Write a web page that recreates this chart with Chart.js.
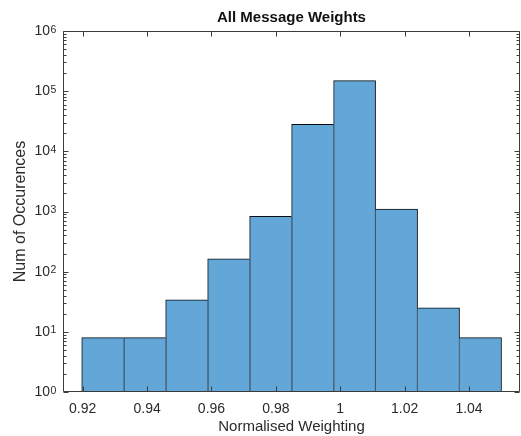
<!DOCTYPE html>
<html>
<head>
<meta charset="utf-8">
<script src="https://cdn.jsdelivr.net/npm/chart.js@4/dist/chart.umd.min.js"></script>
<style>
  html, body { margin: 0; padding: 0; background: #fff; }
  #c { display: block; }
</style>
</head>
<body>
<canvas id="c" width="521" height="436"></canvas>
<script>
// ---- data ----
const binCenters = [0.92622, 0.93926, 0.95230, 0.96534, 0.97838, 0.99142, 1.00446, 1.01750, 1.03054, 1.04358];
const counts     = [8, 8, 34, 164, 830, 28000, 150000, 1100, 25, 8];
const xTickValues = [0.92, 0.94, 0.96, 0.98, 1.00, 1.02, 1.04];
const yTickValues = [1, 10, 100, 1000, 10000, 100000, 1000000];
const yTickBase = '10';
const yTickExponents = ['0', '1', '2', '3', '4', '5', '6'];
const titleText = 'All Message Weights';
const xTitle = 'Normalised Weighting';
const yTitle = 'Num of Occurences';

const FONT = "'Liberation Sans', Arial, Helvetica, sans-serif";
Chart.defaults.font.family = FONT;
Chart.defaults.color = '#2a2a2a';

const AXIS = '#3c3c3c';
const TEXT = '#2a2a2a';

const boxTicks = {
  id: 'boxTicks',
  afterDatasetsDraw(chart) {
    const { ctx, chartArea: a, scales: { x, y } } = chart;
    ctx.save();
    ctx.strokeStyle = AXIS;
    ctx.lineWidth = 1;
    ctx.beginPath();
    const L = Math.round(a.left) + 0.5, R = Math.round(a.right) - 0.5;
    const T = Math.round(a.top) + 0.5, B = Math.round(a.bottom) - 0.5;
    ctx.moveTo(L, B); ctx.lineTo(L, T); ctx.lineTo(R, T); ctx.lineTo(R, B); ctx.lineTo(L, B);
    xTickValues.forEach(v => {
      const px = Math.round(x.getPixelForValue(v)) + 0.5;
      ctx.moveTo(px, B); ctx.lineTo(px, B - 5);
      ctx.moveTo(px, T); ctx.lineTo(px, T + 5);
    });
    yTickValues.forEach(v => {
      const py = Math.round(y.getPixelForValue(v)) + 0.5;
      ctx.moveTo(L, py); ctx.lineTo(L + 5, py);
      ctx.moveTo(R, py); ctx.lineTo(R - 5, py);
    });
    ctx.stroke();
    ctx.beginPath();
    for (let d = 0; d < 6; d++) {
      for (let m = 2; m <= 9; m++) {
        const v = m * Math.pow(10, d);
        const py = Math.round(y.getPixelForValue(v)) + 0.5;
        ctx.moveTo(L, py); ctx.lineTo(L + 3, py);
        ctx.moveTo(R, py); ctx.lineTo(R - 3, py);
      }
    }
    ctx.stroke();
    ctx.restore();
  },
  afterDraw(chart) {
    // superscript exponents of the y tick labels (10^n)
    const { ctx, scales: { y } } = chart;
    ctx.save();
    ctx.fillStyle = TEXT;
    ctx.font = "10.5px " + FONT;
    ctx.textAlign = 'left';
    ctx.textBaseline = 'alphabetic';
    yTickValues.forEach((v, i) => {
      const py = y.getPixelForValue(v);
      ctx.fillText(yTickExponents[i], 50.5, py + 1.5);
    });
    ctx.restore();
  }
};

new Chart(document.getElementById('c'), {
  type: 'bar',
  data: {
    datasets: [{
      data: counts.map((c, i) => ({ x: binCenters[i], y: c })),
      backgroundColor: '#62a7d8',
      borderColor: '#0a0c12',
      borderWidth: (ctx) => {
        const i = ctx.dataIndex;
        const h = counts[i];
        const left = (i === 0 || h >= counts[i - 1]) ? 1 : 0;
        const right = (i === counts.length - 1 || h > counts[i + 1]) ? 1 : 0;
        return { top: 1, left: left, right: right, bottom: 0 };
      },
      borderSkipped: 'start',
      barPercentage: 1,
      categoryPercentage: 1,
      grouped: false
    }]
  },
  options: {
    responsive: false,
    animation: false,
    layout: { padding: { left: 0, right: 1, top: 0, bottom: 0 } },
    plugins: {
      legend: { display: false },
      tooltip: { enabled: false },
      title: {
        display: true,
        fullSize: false,
        text: titleText,
        color: '#111',
        font: { size: 15, weight: 'bold', family: FONT },
        padding: { top: 8.5, bottom: 4.5 }
      }
    },
    scales: {
      x: {
        type: 'linear',
        offset: false,
        min: 0.91388,
        max: 1.05584,
        grid: { display: false, drawTicks: false },
        border: { display: false },
        afterBuildTicks: (s) => { s.ticks = xTickValues.map(v => ({ value: v })); },
        afterFit: (s) => { s.height = 44; },
        ticks: {
          padding: 9,
          maxRotation: 0,
          font: { size: 14 },
          color: TEXT,
          callback: (v) => String(+Number(v).toFixed(2))
        },
        title: {
          display: true,
          text: xTitle,
          color: TEXT,
          font: { size: 15 },
          padding: { top: 0, bottom: 0 }
        }
      },
      y: {
        type: 'logarithmic',
        min: 1,
        max: 1000000,
        grid: { display: false, drawTicks: false },
        border: { display: false },
        afterBuildTicks: (s) => { s.ticks = yTickValues.map(v => ({ value: v })); },
        afterFit: (s) => { s.width = 63; },
        ticks: {
          padding: 13,
          font: { size: 14 },
          color: TEXT,
          callback: () => yTickBase
        },
        title: {
          display: true,
          text: yTitle,
          color: TEXT,
          font: { size: 16 },
          padding: { top: 11, bottom: 0 }
        }
      }
    }
  },
  plugins: [boxTicks]
});
</script>
</body>
</html>
